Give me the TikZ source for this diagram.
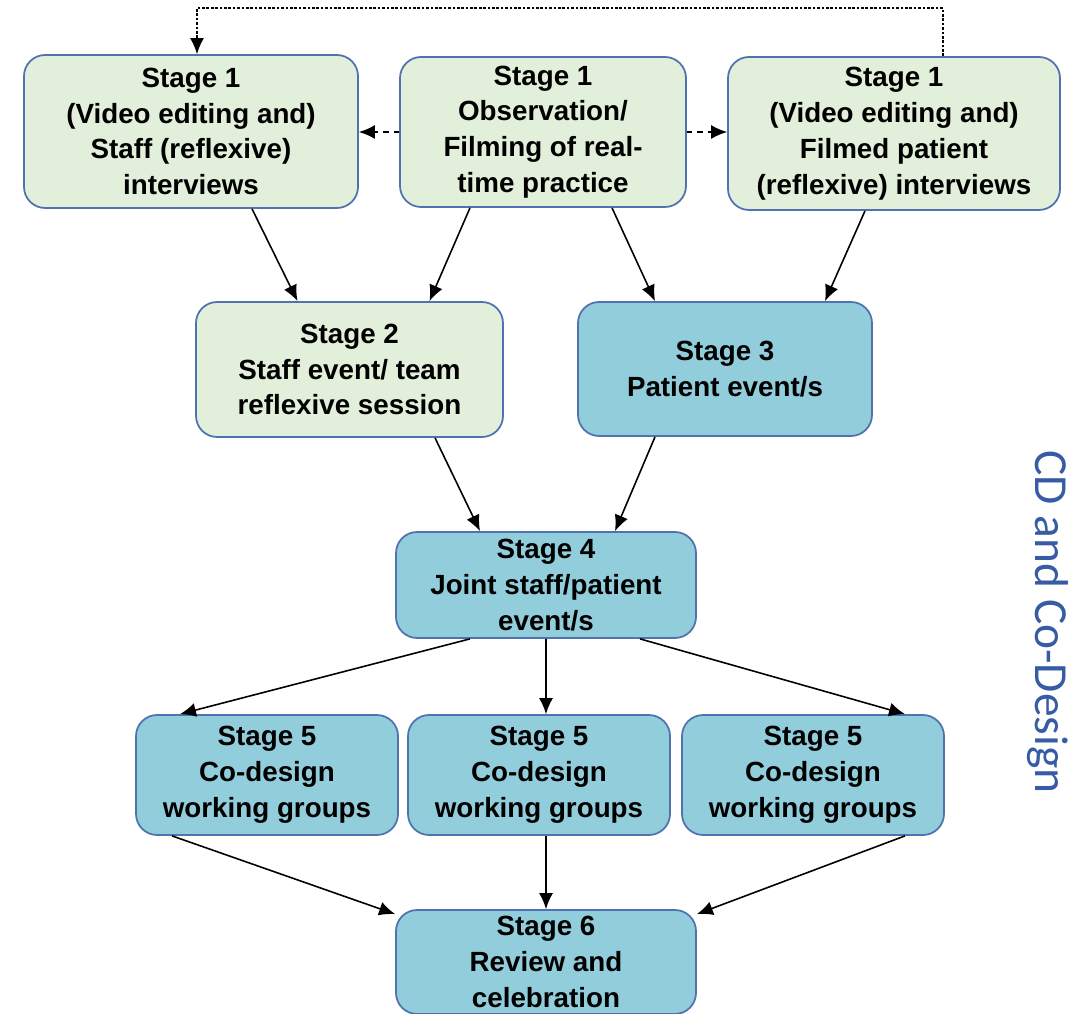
\documentclass[tikz,border=0pt]{standalone}
\usepackage{fontspec}
\setmainfont{Liberation Sans}
\newfontfamily\labelfont{Carlito}
\usepackage{tikz}
\usetikzlibrary{arrows.meta}

\definecolor{stagegreen}{RGB}{226,239,218}
\definecolor{stageteal}{RGB}{146,205,220}
\definecolor{stageborder}{RGB}{80,115,175}
\definecolor{cdblue}{RGB}{55,92,165}

\begin{document}
\begin{tikzpicture}[
		stage/.style={draw=stageborder, line width=1pt, rounded corners=12pt, fill=stagegreen, align=center, font=\fontsize{15.8}{20.4}\selectfont\bfseries, inner sep=0pt},
		teal/.style={fill=stageteal},
		arrow/.style={-{Latex[length=3.2mm, width=2.8mm]}, line width=0.9pt}
		]
		\useasboundingbox (0,0) rectangle (21.68,20.26);
		
		% Nodes
		\node[stage, minimum width=6.68cm, minimum height=3.06cm] (st1staff) at (3.82,17.63) {Stage 1\\(Video editing and)\\Staff (reflexive)\\interviews};
		\node[stage, minimum width=5.72cm, minimum height=3.0cm] (st1obs) at (10.86,17.62) {Stage 1\\Observation/\\Filming of real-\\time practice};
		\node[stage, minimum width=6.64cm, minimum height=3.06cm] (st1patient) at (17.88,17.59) {Stage 1\\(Video editing and)\\Filmed patient\\(reflexive) interviews};
		\node[stage, minimum width=6.14cm, minimum height=2.7cm] (st2) at (6.99,12.87) {Stage 2\\Staff event/ team\\reflexive session};
		\node[stage, teal, minimum width=5.88cm, minimum height=2.68cm] (st3) at (14.5,12.88) {Stage 3\\Patient event/s};
		\node[stage, teal, minimum width=6.0cm, minimum height=2.12cm] (st4) at (10.92,8.56) {Stage 4\\Joint staff/patient\\event/s};
		\node[stage, teal, minimum width=5.24cm, minimum height=2.4cm] (st5a) at (5.34,4.76) {Stage 5\\Co-design\\working groups};
		\node[stage, teal, minimum width=5.24cm, minimum height=2.4cm] (st5b) at (10.78,4.76) {Stage 5\\Co-design\\working groups};
		\node[stage, teal, minimum width=5.24cm, minimum height=2.4cm] (st5c) at (16.26,4.76) {Stage 5\\Co-design\\working groups};
		\node[stage, teal, minimum width=6.0cm, minimum height=2.08cm] (st6) at (10.92,1.02) {Stage 6\\Review and\\celebration};
		
		% Arrows
		\draw[arrow, dashed] (st1obs.west) -- (st1obs.west -| st1staff.east);
		\draw[arrow, dashed] (st1obs.east) -- (st1obs.east -| st1patient.west);
		\coordinate (loop) at (10,20.1);
		\draw[arrow, dash pattern=on 1.5pt off 1pt] ([xshift=0.98cm]st1patient.north) |- (loop) -| ([xshift=0.12cm]st1staff.north);
		\draw[arrow] ([xshift=1.22cm]st1staff.south) -- ([xshift=-1.04cm]st2.north);
		\draw[arrow] ([xshift=-1.46cm]st1obs.south) -- ([xshift=1.6cm]st2.north);
		\draw[arrow] ([xshift=1.38cm]st1obs.south) -- ([xshift=-1.4cm]st3.north);
		\draw[arrow] ([xshift=-0.58cm]st1patient.south) -- ([xshift=2.0cm]st3.north);
		\draw[arrow] ([xshift=1.71cm]st2.south) -- ([xshift=-1.32cm]st4.north);
		\draw[arrow] ([xshift=-1.4cm]st3.south) -- ([xshift=1.38cm]st4.north);
		\draw[arrow] ([xshift=-1.52cm]st4.south) -- ([xshift=-1.74cm]st5a.north);
		\draw[arrow] (st4.south) -- (st4.south |- st5b.north);
		\draw[arrow] ([xshift=1.88cm]st4.south) -- ([xshift=1.84cm]st5c.north);
		\draw[arrow] ([xshift=-1.9cm]st5a.south) -- ([yshift=-0.1cm]st6.north west);
		\draw[arrow] (st6.north |- st5b.south) -- (st6.north);
		\draw[arrow] ([xshift=1.84cm]st5c.south) -- ([yshift=-0.1cm]st6.north east);
		
		% Labels
		\node[rotate=-90, text=cdblue, font=\labelfont\fontsize{27}{32}\selectfont] (cdlabel) at (20.96,7.82) {CD and Co-Design};
		
	\end{tikzpicture}
\end{document}
